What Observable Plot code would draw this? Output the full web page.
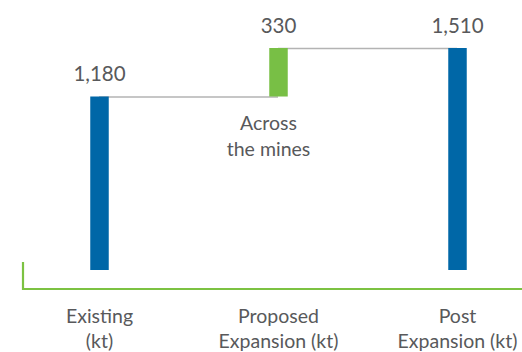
<!DOCTYPE html>
<html><head><meta charset="utf-8">
<script src="https://cdn.jsdelivr.net/npm/d3@7"></script>
<script src="https://cdn.jsdelivr.net/npm/@observablehq/plot@0.6"></script>
<style>body{margin:0;background:#fff;}</style>
</head><body><div id="chart"></div>
<script>
const categories = ["Existing", "Proposed", "Post"];
const categoryLabels = ["Existing\n(kt)", "Proposed\nExpansion (kt)", "Post\nExpansion (kt)"];
const starts = [0, 1180, 0];
const ends = [1180, 1510, 1510];
const valueLabels = ["1,180", "330", "1,510"];
const barKinds = ["total", "increase", "total"];
const note = "Across\nthe mines";

const bars = categories.map((c, i) => ({cat: c, y1: starts[i], y2: ends[i], label: valueLabels[i], kind: barKinds[i]}));
const connectors = [
  {x1: categories[0], x2: categories[1], y: ends[0]},
  {x1: categories[1], x2: categories[2], y: ends[1]}
];

function greenAxis(index, scales, values, dims) {
  const {marginLeft, width, height, marginBottom} = dims;
  const y = height - marginBottom;
  return d3.create("svg:path")
    .attr("d", `M${marginLeft + 1},${y - 27}V${y}H${width}`)
    .attr("fill", "none")
    .attr("stroke", "#7cc242")
    .attr("stroke-width", 2.2)
    .node();
}

const plot = Plot.plot({
  width: 522, height: 352,
  marginTop: 0, marginBottom: 63, marginLeft: 22, marginRight: 0,
  x: {type: "point", domain: categories, range: [98, 457], padding: 0},
  y: {domain: [0, 1510], range: [270, 48], axis: null},
  color: {domain: ["total", "increase"], range: ["#0067a7", "#78bf45"]},
  style: {fontFamily: "Lato, sans-serif", background: "white", color: "#58595b"},
  marks: [
    greenAxis,
    Plot.ruleY(connectors, {x1: "x1", x2: "x2", y: "y", stroke: "#b3b3b3", strokeWidth: 1.3}),
    Plot.ruleX(bars, {x: "cat", y1: "y1", y2: "y2", stroke: "kind", strokeWidth: 18.5}),
    Plot.text(bars, {x: "cat", y: "y2", text: "label", dy: -16, lineAnchor: "bottom", fontSize: 20.5, fill: "#58595b"}),
    Plot.text([note], {x: () => categories[1], y: () => ends[0], text: d => d, dx: -10, dy: 14, lineAnchor: "top", fontSize: 19.5, lineHeight: 1.35, fill: "#58595b"}),
    Plot.axisX({tickSize: 0, tickPadding: 15, tickFormat: (d, i) => categoryLabels[i], fontSize: 19.5, lineHeight: 1.3, fill: "#58595b", label: null})
  ]
});
document.getElementById("chart").append(plot);
</script>
</body></html>
